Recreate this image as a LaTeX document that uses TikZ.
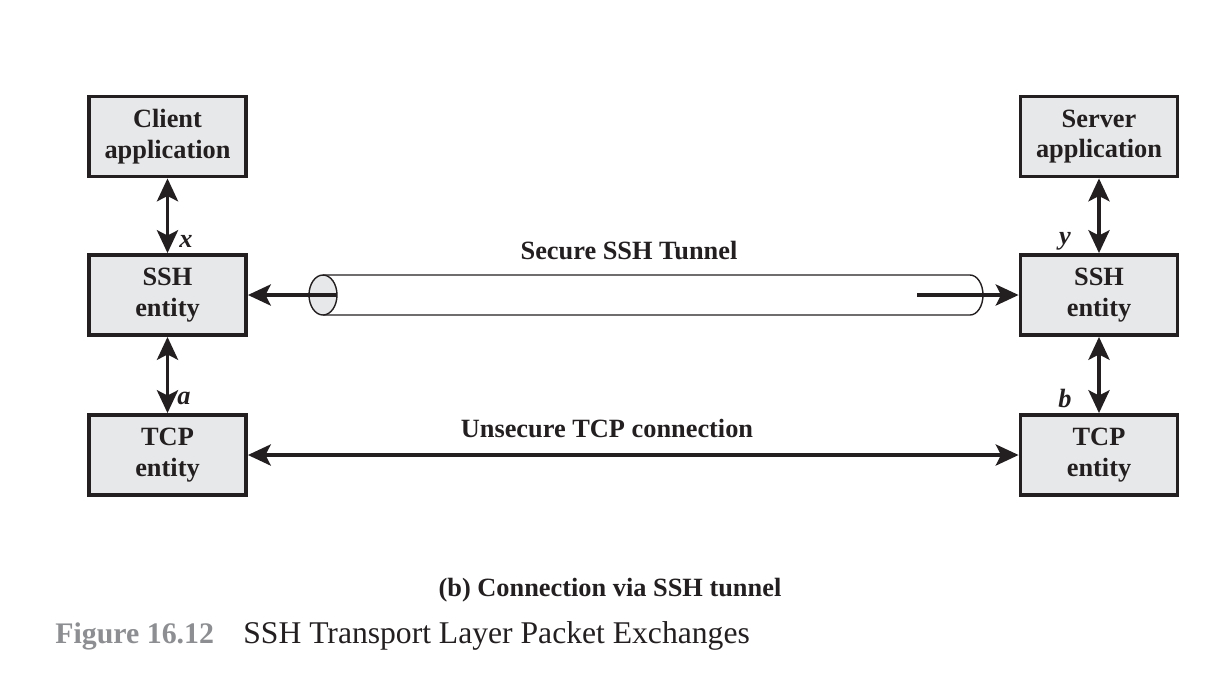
\documentclass[tikz,border=0pt]{standalone}
\usepackage{fontspec}
\setmainfont{Liberation Serif}
\usepackage{tikz}
\usetikzlibrary{arrows.meta}
\definecolor{boxgray}{RGB}{231,232,233}
\definecolor{inkblack}{RGB}{35,31,32}
\definecolor{figgray}{RGB}{140,142,145}
\tikzset{
	entity/.style={draw=inkblack, line width=2.2pt, fill=boxgray, text=inkblack, align=center,
		minimum width=3.14cm, minimum height=1.6cm, inner sep=0pt,
		font=\fontsize{15}{17.5}\selectfont\bfseries},
	link/.style={line width=2pt, draw=inkblack, {Stealth[length=13pt,width=12pt,inset=3pt]}-{Stealth[length=13pt,width=12pt,inset=3pt]}},
	onelink/.style={line width=2pt, draw=inkblack, -{Stealth[length=13pt,width=12pt,inset=3pt]}},
	ilabel/.style={text=inkblack, font=\fontsize{15}{17}\selectfont\bfseries\itshape, inner sep=0pt},
	blabel/.style={text=inkblack, font=\fontsize{15}{17}\selectfont\bfseries, inner sep=0pt}
}
\newcommand{\tube}[4] % {x left}{x right}{y}{half height}
{
	\draw [inkblack, line width=0.8pt] (#1,#3-#4) -- (#2,#3-#4) arc [start angle=-90, end angle=90, x radius=13, y radius=#4] -- (#1,#3+#4);
	\draw [inkblack, line width=0.8pt, fill=boxgray] (#1,#3) ellipse [x radius=14, y radius=#4];
}
\begin{document}
\begin{tikzpicture}[x=0.02cm, y=-0.02cm]
	\useasboundingbox (0,0) rectangle (1214,674);

	\node[entity] (capp) at (167.5,136.5) {Client\\application};
	\node[entity] (cssh) at (167.5,295) {SSH\\entity};
	\node[entity] (ctcp) at (167.5,455) {TCP\\entity};
	\node[entity] (sapp) at (1099,136.5) {Server\\application};
	\node[entity] (sssh) at (1099,295) {SSH\\entity};
	\node[entity] (stcp) at (1099,455) {TCP\\entity};

	\draw[link] (capp) -- (cssh);
	\draw[link] (cssh) -- (ctcp);
	\draw[link] (sapp) -- (sssh);
	\draw[link] (sssh) -- (stcp);

	\node[ilabel] (lx) at (186,241) {x};
	\node[ilabel] (la) at (184,398) {a};
	\node[ilabel] (ly) at (1065,241) {y};
	\node[ilabel] (lb) at (1065,398) {b};

	% tunnel
	\tube{323}{970}{295}{20}
	\coordinate (tin) at (337,295);
	\coordinate (tout) at (917,295);
	\draw[onelink] (tin) -- (cssh.east);
	\draw[onelink] (tout) -- (sssh.west);
	\node[blabel] (tname) at (629,251) {Secure SSH Tunnel};

	\draw[link] (ctcp) -- (stcp);
	\node[blabel] (cname) at (607,429) {Unsecure TCP connection};

	\node[blabel] (sub) at (610,590) {(b) Connection via SSH tunnel};
	\node[anchor=base west, inner sep=0pt, text=figgray, font=\fontsize{17}{20}\selectfont\bfseries] (fnum) at (55,643) {Figure 16.12};
	\node[anchor=base west, inner sep=0pt, text=inkblack, font=\fontsize{18}{20}\selectfont] (ftitle) at (243,643) {SSH Transport Layer Packet Exchanges};
\end{tikzpicture}
\end{document}
